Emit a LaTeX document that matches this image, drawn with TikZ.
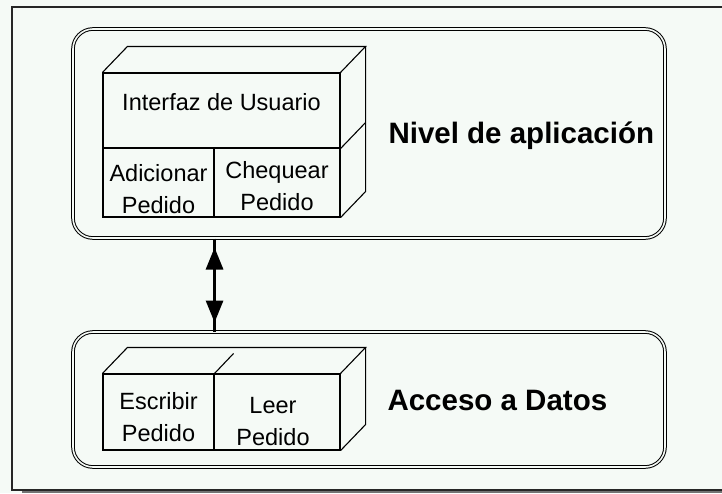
\documentclass[tikz,border=0pt]{standalone}
\usepackage{fontspec}
\setmainfont{Liberation Sans}
\usepackage{tikz}
\usetikzlibrary{arrows.meta, positioning}
\definecolor{paper}{HTML}{F5FAF6}
\tikzset{
  layer/.style={
    rectangle,
    rounded corners=20pt,
    draw=black, line width=1pt,
    double=paper, double distance=1.6pt,
    inner sep=0pt},
  face/.style={
    rectangle,
    draw=black, line width=1.1pt,
    inner sep=0pt},
  lbl/.style={
    align=center,
    font=\fontsize{23.5}{32}\selectfont},
  title/.style={
    anchor=base west,
    font=\fontsize{29.5}{34}\selectfont\bfseries},
  cube/.style={draw=black, line width=1.1pt, line join=miter},
  link/.style={line width=3pt},
  tips/.style={line width=3pt, {Triangle[width=17pt,length=22pt]}-{Triangle[width=17pt,length=22pt]},
    shorten <=9pt, shorten >=9pt},
}

\begin{document}
\begin{tikzpicture}[x=1pt, y=-1pt]
  \useasboundingbox[fill=paper] (0,0) rectangle (722,493);
  % outer frame
  \fill[black!55] (22,490) rectangle (740,493);
  \draw[line width=1.4pt, black!85] (12,7) rectangle (740,490);

  % the two layers
  \node[layer, minimum width=592pt, minimum height=209pt] (app)  at (369,133.5) {};
  \node[layer, minimum width=592pt, minimum height=135pt] (data) at (369,399.5) {};
  \node[title] at (385,143) {Nivel de aplicación};
  \node[title] at (384,410) {Acceso a Datos};

  % upper block
  \node[face, minimum width=237pt, minimum height=75pt] (ui)   at (221.5,110.5) {};
  \node[face, minimum width=111pt, minimum height=69pt] (adic) at (158.5,182.5) {};
  \node[face, minimum width=126pt, minimum height=69pt] (cheq) at (277,182.5)   {};
  \node[lbl] at ([yshift=8.5pt]ui.center) {Interfaz de Usuario};
  \node[lbl] at ([yshift=-7pt]adic.center) {Adicionar\\Pedido};
  \node[lbl] at ([yshift=-3.5pt]cheq.center) {Chequear\\Pedido};
  \draw[cube] (ui.north west) -- ++(25,-26) -- ([shift={(25,-26)}]ui.north east) -- (ui.north east);
  \draw[cube] ([shift={(25,-26)}]ui.north east) -- ([shift={(25,-26)}]cheq.south east) -- (cheq.south east);
  \draw[cube] (ui.south east) -- ++(25,-26);

  % lower block
  \node[face, minimum width=111pt, minimum height=76pt] (escr) at (158.5,412) {};
  \node[face, minimum width=126pt, minimum height=76pt] (leer) at (277,412)   {};
  \node[lbl] at ([yshift=-5pt]escr.center) {Escribir\\Pedido};
  \node[lbl] at ([xshift=-4pt,yshift=-9.5pt]leer.center) {Leer\\Pedido};
  \draw[cube] (escr.north west) -- ++(25,-26) -- ([shift={(25,-26)}]leer.north east) -- (leer.north east);
  \draw[cube] ([shift={(25,-26)}]leer.north east) -- ([shift={(25,-26)}]leer.south east) -- (leer.south east);
  \draw[cube] (escr.north east) -- ++(19,-20);

  % link between layers
  \draw[link] (app.south -| adic.east) -- (data.north -| adic.east);
  \draw[tips] (app.south -| adic.east) -- (data.north -| adic.east);
\end{tikzpicture}
\end{document}
